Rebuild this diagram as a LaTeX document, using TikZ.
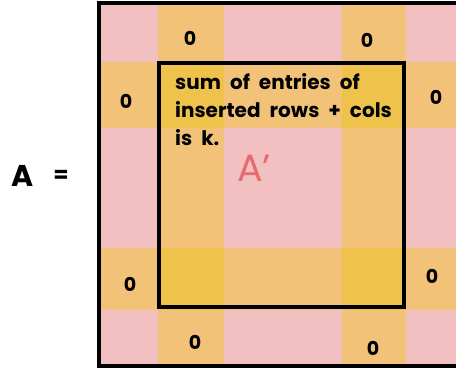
\documentclass[tikz,border=0pt]{standalone}
\usepackage{fontspec}
\setmainfont{Poppins}
\definecolor{cellpink}{HTML}{F2C0C1}
\definecolor{cellorange}{HTML}{F1C277}
\definecolor{cellyellow}{HTML}{EFC24B}
\definecolor{primered}{HTML}{E46C6C}
\newcommand\notefont{\fontsize{20}{28}\selectfont\bfseries\spaceskip=9pt\relax}
\begin{document}
\begin{tikzpicture}[
    x=1pt, y=-1pt,
    band/.style={fill=cellorange, draw=none},
    cross/.style={fill=cellyellow, draw=none},
    frame/.style={draw=black, line width=3.3pt},
    zero/.style={font=\fontsize{19}{19}\selectfont\bfseries, inner sep=0pt},
    note/.style={font=\notefont, align=left, anchor=north west, inner sep=0pt}
]
\useasboundingbox (0,0) rectangle (456,369);

% Cells
\fill[cellpink] (99,3) rectangle (456,366);
\fill[band] (158,3) rectangle (224,366);
\fill[band] (342,3) rectangle (406,366);
\fill[band] (99,62) rectangle (456,128);
\fill[band] (99,248) rectangle (456,310);
\fill[cross] (158,62) rectangle (224,128);
\fill[cross] (342,62) rectangle (406,128);
\fill[cross] (158,248) rectangle (224,310);
\fill[cross] (342,248) rectangle (406,310);

% Matrix borders
\draw[frame] (456,3) -- (99,3) -- (99,366) -- (456,366);
\draw[frame] (159,63) rectangle (404,307);

% Zeros
\foreach \name/\px/\py in {za/190/38, zb/367/40, zc/126/101, zd/436/97,
                            ze/130/284, zf/432/276, zg/195/342, zh/373/348}
    \node[zero] (\name) at (\px,\py) {0};

% Labels
\node[font=\fontsize{30}{30}\selectfont\bfseries, inner sep=0pt] (lhs) at (23,176) {A};
\node[font=\fontsize{22}{22}\selectfont\bfseries, inner sep=0pt] (eq) at (61,176) {=};
\node[note] (txt) at (175,73) {sum of entries of\\inserted rows + cols\\is k.};
\node[font=\fontsize{38}{38}\selectfont, text=primered, inner sep=0pt] (sub) at (254,168) {A'};

\end{tikzpicture}
\end{document}
